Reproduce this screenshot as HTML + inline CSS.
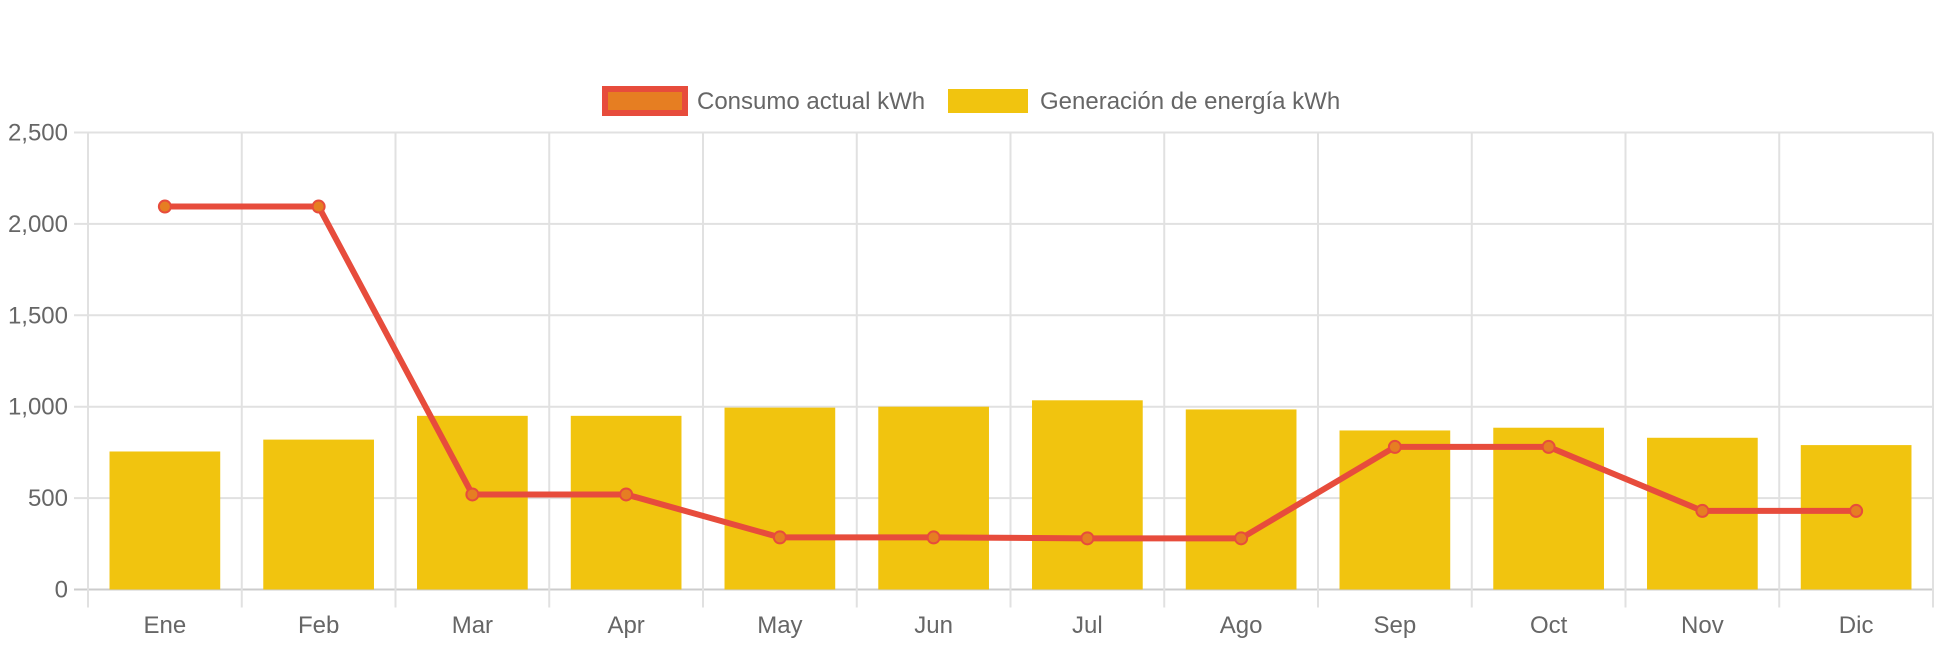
<!DOCTYPE html>
<html><head><meta charset="utf-8"><style>
html,body{margin:0;padding:0;background:#fff;}
svg{display:block;font-family:"Liberation Sans",Arial,sans-serif;}
</style></head><body>
<svg id="chart" width="1942" height="646">
  <g id="grid"></g>
  <g id="bars"></g>
  <g id="line"></g>
  <g id="axes"></g>
  <g>
    <g>
      <rect x="605" y="89" width="80" height="24" fill="#e67e22" stroke="#e74c3c" stroke-width="6"/>
      <text x="697" y="109" font-size="24" fill="#666">Consumo actual kWh</text>
    </g>
    <g>
      <rect x="948" y="89" width="80" height="24" fill="#f1c40f"/>
      <text x="1040" y="109" font-size="24" fill="#666">Generación de energía kWh</text>
    </g>
  </g>
</svg>
<script>
const categories = ["Ene","Feb","Mar","Apr","May","Jun","Jul","Ago","Sep","Oct","Nov","Dic"];
const generacion = [755,820,950,950,995,1000,1035,985,870,885,830,790];
const consumo = [2095,2095,520,520,285,285,280,280,780,780,430,430];
const yTicks = [0,500,1000,1500,2000,2500];
const yTickLabels = ["0","500","1,000","1,500","2,000","2,500"];

const NS="http://www.w3.org/2000/svg";
const L=88,R=1933,T=132.5,B=589.5,YMAX=2500;
const cw=(R-L)/categories.length;
function xC(i){return L+cw*(i+0.5);}
function y(v){return B-(v/YMAX)*(B-T);}
function mk(tag,attrs,parent){const e=document.createElementNS(NS,tag);for(const k in attrs)e.setAttribute(k,attrs[k]);parent.appendChild(e);return e;}
const grid=document.getElementById('grid'),bars=document.getElementById('bars'),line=document.getElementById('line'),axes=document.getElementById('axes');

yTicks.forEach((v,i)=>{
  const g=mk('line',{x1:L-14,x2:R,y1:y(v),y2:y(v),stroke:i===0?'#ccc':'#e1e1e1','stroke-width':2},grid);
  
  
  const t=mk('text',{x:L-20,y:y(v)+8,'text-anchor':'end','font-size':24,fill:'#666'},axes);
  t.textContent=yTickLabels[i];
  
  
});
for(let i=0;i<=categories.length;i++){
  const x=L+cw*i;
  const g=mk('line',{x1:x,x2:x,y1:T,y2:B+18,stroke:'#e1e1e1','stroke-width':2},grid);
  
  
}
categories.forEach((c,i)=>{
  const t=mk('text',{x:xC(i),y:633,'text-anchor':'middle','font-size':24,fill:'#666'},axes);
  t.textContent=c;
  
  
  const bw=cw*0.72;
  const b=mk('rect',{x:xC(i)-bw/2,y:y(generacion[i]),width:bw,height:B-y(generacion[i]),fill:'#f1c40f'},bars);
  
  
});
const pts=consumo.map((v,i)=>xC(i)+','+y(v)).join(' ');
const pl=mk('polyline',{points:pts,fill:'none',stroke:'#e74c3c','stroke-width':6,'stroke-linejoin':'round'},line);


consumo.forEach((v,i)=>{
  const p=mk('circle',{cx:xC(i),cy:y(v),r:6,fill:'#e67e22',stroke:'#e74c3c','stroke-width':2},line);
  
  
});
</script>
</body></html>
